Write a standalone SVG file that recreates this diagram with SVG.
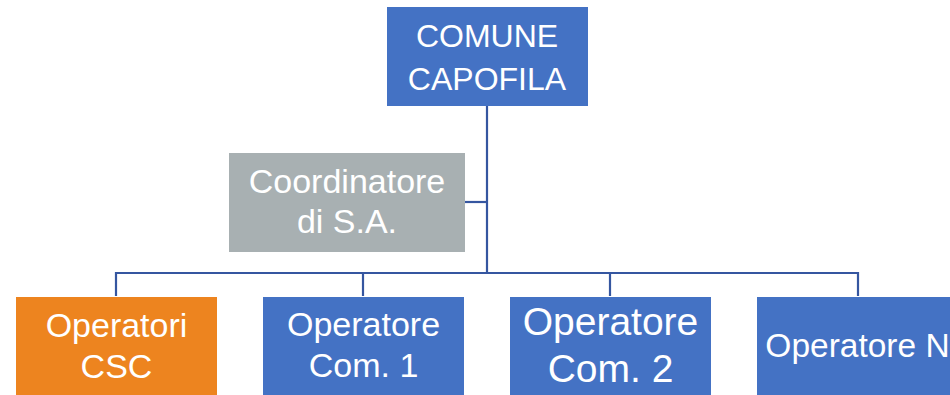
<svg xmlns="http://www.w3.org/2000/svg" width="950" height="395" viewBox="0 0 950 395">
<style>
.box{stroke:none}
.blue{fill:#4472C4}
.orange{fill:#ED841F}
.grey{fill:#A8B0B2}
.lbl{font-family:"Liberation Sans",Arial,sans-serif;fill:#FFFFFF;text-anchor:middle}
.conn{fill:none;stroke:#3556A0;stroke-width:2.2}
</style>
<rect width="950" height="395" fill="#FFFFFF"/>
<g id="connectors">
<path class="conn" d="M487 106 V273"/>
<path class="conn" d="M465 202 H487"/>
<path class="conn" d="M116 296 V273 H858 V296"/>
<path class="conn" d="M363 273 V296"/>
<path class="conn" d="M610 273 V296"/>
</g>
<g id="comune">
<rect class="box blue" x="387" y="7" width="201" height="99"/>
<text class="lbl" x="487" y="47" font-size="32">COMUNE</text>
<text class="lbl" x="487" y="90" font-size="32">CAPOFILA</text>
</g>
<g id="coordinatore">
<rect class="box grey" x="229" y="153" width="236" height="99"/>
<text class="lbl" x="347" y="193" font-size="34">Coordinatore</text>
<text class="lbl" x="347" y="233" font-size="34">di S.A.</text>
</g>
<g id="operatori-csc">
<rect class="box orange" x="16" y="297" width="201" height="98"/>
<text class="lbl" x="116.5" y="337" font-size="34">Operatori</text>
<text class="lbl" x="116.5" y="378" font-size="34">CSC</text>
</g>
<g id="operatore-com1">
<rect class="box blue" x="263" y="297" width="201" height="98"/>
<text class="lbl" x="363.5" y="336" font-size="34">Operatore</text>
<text class="lbl" x="363.5" y="377" font-size="34">Com. 1</text>
</g>
<g id="operatore-com2">
<rect class="box blue" x="510" y="297" width="201" height="98"/>
<text class="lbl" x="610.5" y="335" font-size="39">Operatore</text>
<text class="lbl" x="610.5" y="382" font-size="39">Com. 2</text>
</g>
<g id="operatore-n">
<rect class="box blue" x="757" y="297" width="201" height="98"/>
<text class="lbl" x="857.5" y="357" font-size="33.5">Operatore N</text>
</g>
</svg>
